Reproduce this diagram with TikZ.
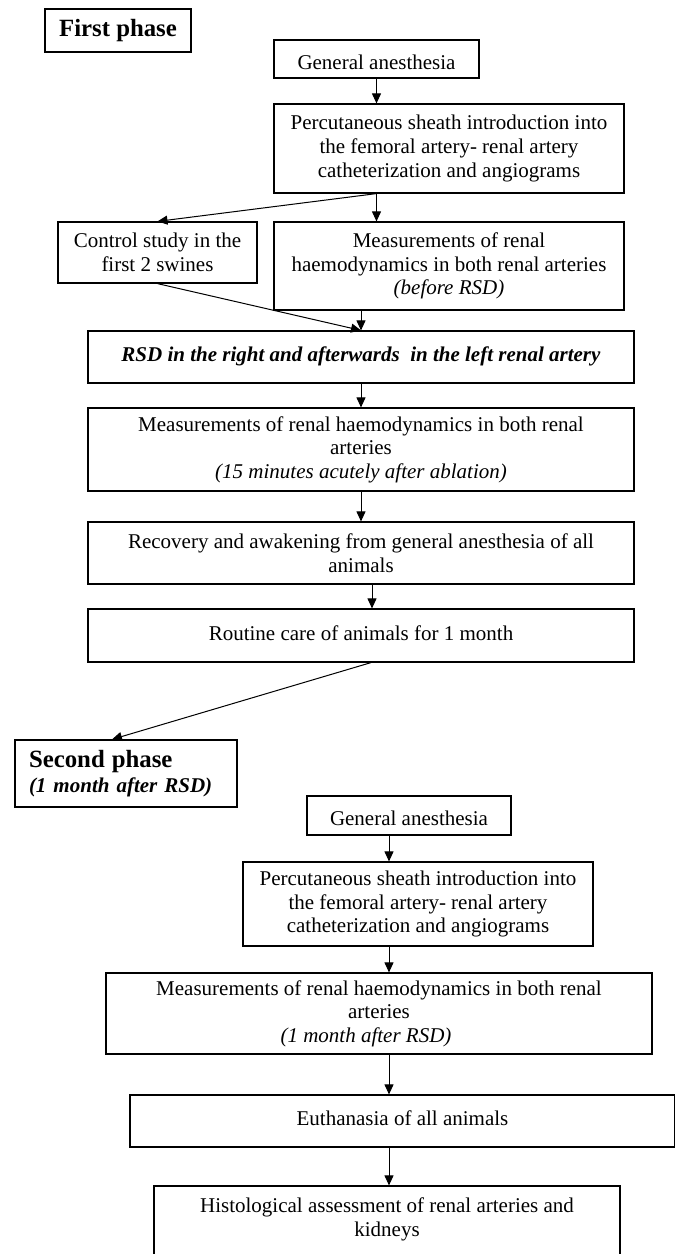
\documentclass[tikz,border=0pt]{standalone}
\usepackage{fontspec}
\setmainfont{Liberation Serif}
\usetikzlibrary{arrows.meta,calc}
\begin{document}
\begin{tikzpicture}[x=0.5pt,y=-0.5pt,>={Triangle[length=5pt,width=4.5pt]}]
    \tikzstyle{stepbox}=[draw, line width=0.6pt, align=center, inner sep=0pt, font=\fontsize{10.5}{11.8}\selectfont, execute at begin node={\rule{0pt}{10.5pt}}]
    \tikzstyle{phasebox}=[draw, line width=0.6pt, inner sep=0pt]
    \tikzstyle{link}=[->, line width=0.5pt]
    \clip (0,0) rectangle (675,1254);

    \node[phasebox, minimum width=73pt, minimum height=21.5pt, font=\fontsize{12.4}{14}\selectfont\bfseries] (P1) at (118,30.5) {First phase};
    \node[stepbox, minimum width=102.5pt, minimum height=19pt] (A1) at (376.5,59) {General anesthesia};
    \node[stepbox, minimum width=175pt, minimum height=44.5pt] (B1) at (449,148.5) {Percutaneous sheath introduction into\\the femoral artery- renal artery\\catheterization and angiograms};
    \node[stepbox, minimum width=99.5pt, minimum height=30.5pt] (C1) at (157.5,252.5) {Control study in the\\first 2 swines};
    \node[stepbox, minimum width=175pt, minimum height=44pt] (M1) at (449,266) {Measurements of renal\\haemodynamics in both renal arteries\\\textit{(before RSD)}};
    \node[stepbox, minimum width=273pt, minimum height=26pt, text depth=6pt] (R1) at (361,357) {\textbf{\textit{RSD in the right and afterwards\ \ in the left renal artery}}};
    \node[stepbox, minimum width=273pt, minimum height=41.5pt] (M2) at (361,449.5) {Measurements of renal haemodynamics in both renal\\arteries\\\textit{(15 minutes acutely after ablation)}};
    \node[stepbox, minimum width=273pt, minimum height=31pt] (V1) at (361,553) {Recovery and awakening from general anesthesia of all\\animals};
    \node[stepbox, minimum width=273pt, minimum height=26.5pt, text depth=6pt] (T1) at (361,635.5) {Routine care of animals for 1 month};

    \node[phasebox, minimum width=111pt, minimum height=33.5pt, text width=97pt, inner xsep=7pt, align=left, font=\fontsize{10.5}{12.5}\selectfont] (P2) at (126,773.5) {{\fontsize{12.4}{12.5}\selectfont\bfseries Second phase}\\\textbf{\textit{(1 month after RSD)}}};
    \node[stepbox, minimum width=102pt, minimum height=19.5pt] (A2) at (409,815.5) {General anesthesia};
    \node[stepbox, minimum width=175pt, minimum height=42pt] (B2) at (418,904) {Percutaneous sheath introduction into\\the femoral artery- renal artery\\catheterization and angiograms};
    \node[stepbox, minimum width=273pt, minimum height=40.5pt] (M3) at (379,1013.5) {Measurements of renal haemodynamics in both renal\\arteries\\\textit{(1 month after RSD)}\hspace*{13pt}};
    \node[stepbox, minimum width=272.5pt, minimum height=26pt, text depth=6pt] (E2) at (402.5,1121) {Euthanasia of all animals};
    \node[stepbox, minimum width=233pt, minimum height=43pt] (H2) at (387,1229) {Histological assessment of renal arteries and\\kidneys\\~};

    \coordinate (s1) at (A1.south |- B1.south);
    \draw[link] (A1.south) -- (A1.south |- B1.north);
    \draw[link] (s1) -- (C1.north);
    \draw[link] (s1) -- (s1 |- M1.north);
    \draw[link] (C1.south) -- (R1.north);
    \draw[link] (R1.north |- M1.south) -- (R1.north);
    \draw[link] (R1.south) -- (M2.north);
    \draw[link] (M2.south) -- (V1.north);
    \draw[link] ($(V1.south)+(11,0)$) -- ($(T1.north)+(11,0)$);
    \draw[link] ($(T1.south)+(10,0)$) -- ($(P2.north)+(-14,0)$);

    \coordinate (s2) at (389,0);
    \draw[link] (s2 |- A2.south) -- (s2 |- B2.north);
    \draw[link] (s2 |- B2.south) -- (s2 |- M3.north);
    \draw[link] (s2 |- M3.south) -- (s2 |- E2.north);
    \draw[link] (s2 |- E2.south) -- (s2 |- H2.north);
\end{tikzpicture}
\end{document}
